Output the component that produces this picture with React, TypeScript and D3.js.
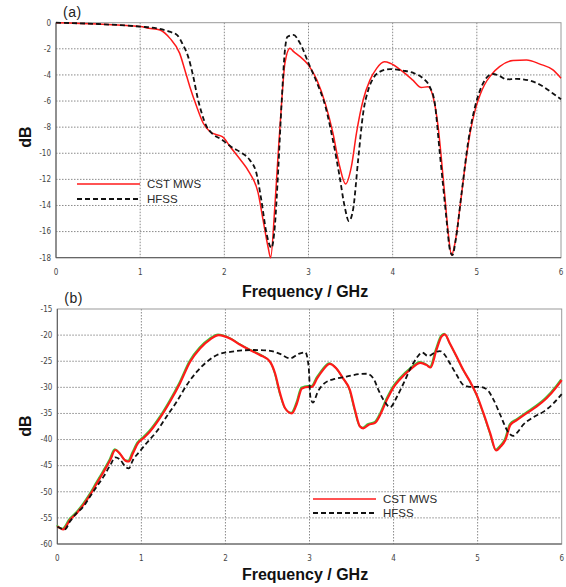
import React from "react";
import * as d3 from "d3";

// frequency in GHz, value in dB
const topCst: [number, number][] = [
  [0, 0], [0.5, -0.1], [1.0, -0.3], [1.1, -0.42], [1.235, -0.56], [1.354, -1.2], [1.47, -2.35],
  [1.53, -3.6], [1.59, -4.9], [1.67, -6.4], [1.75, -7.7], [1.83, -8.35], [1.92, -8.6], [1.98, -8.75],
  [2.07, -9.5], [2.18, -10.4], [2.3, -11.5], [2.4, -13.0], [2.46, -15.1], [2.52, -17.2], [2.55, -18.0],
  [2.6, -14.1], [2.64, -10], [2.68, -6.2], [2.72, -3.1], [2.78, -1.95], [2.82, -2.2], [2.9, -2.6],
  [3.0, -3.25], [3.1, -4.4], [3.2, -6.2], [3.29, -8.45], [3.37, -11.0], [3.44, -12.35], [3.51, -11],
  [3.57, -8.45], [3.65, -5.9], [3.73, -4.4], [3.81, -3.5], [3.9, -3.0], [3.97, -3.1], [4.12, -3.75],
  [4.24, -4.4], [4.34, -4.97], [4.42, -4.9], [4.48, -5.67], [4.54, -7.96], [4.58, -10.5], [4.62, -13.3],
  [4.66, -16.1], [4.7, -17.8], [4.74, -16.9], [4.8, -14.1], [4.86, -11.0], [4.92, -8.45], [4.98, -6.7],
  [5.04, -5.5], [5.09, -4.77], [5.17, -4.0], [5.27, -3.37], [5.43, -2.9], [5.59, -2.86], [5.75, -3.17],
  [5.9, -3.6], [6.0, -4.25],
];

const topHfss: [number, number][] = [
  [0, 0], [0.5, -0.1], [1.0, -0.3], [1.2, -0.43], [1.35, -0.69], [1.44, -0.95], [1.5, -1.58],
  [1.57, -2.6], [1.63, -4.1], [1.68, -5.67], [1.73, -6.9], [1.79, -7.96], [1.85, -8.45], [1.98, -9.0],
  [2.08, -9.5], [2.2, -9.95], [2.3, -10.5], [2.38, -11.5], [2.44, -13.6], [2.5, -16.1], [2.56, -17.25],
  [2.6, -15.6], [2.64, -11.3], [2.68, -6.2], [2.72, -2.1], [2.75, -1.07], [2.82, -0.94], [2.9, -1.58],
  [3.0, -3.1], [3.1, -4.6], [3.2, -6.4], [3.29, -9.0], [3.37, -11.8], [3.43, -14.1], [3.48, -15.2],
  [3.53, -14.3], [3.59, -10.5], [3.65, -6.9], [3.71, -5.15], [3.77, -4.25], [3.85, -3.75], [3.97, -3.55],
  [4.12, -3.67], [4.24, -3.83], [4.36, -4.26], [4.44, -4.9], [4.5, -6.15], [4.56, -10], [4.6, -12.55],
  [4.64, -15.1], [4.68, -17.4], [4.71, -17.8], [4.75, -16.6], [4.82, -13.0], [4.9, -9.0], [4.98, -6.4],
  [5.04, -5.15], [5.11, -4.26], [5.19, -3.93], [5.27, -4.08], [5.35, -4.34], [5.47, -4.3], [5.63, -4.44],
  [5.79, -4.9], [5.9, -5.4], [6.0, -5.87],
];

const bottomCst: [number, number][] = [
  [0, -56.6], [0.07, -57.2], [0.15, -55.4], [0.23, -54.1], [0.31, -52.5], [0.39, -50.6], [0.47, -48.4],
  [0.55, -46.2], [0.63, -43.9], [0.69, -42.0], [0.75, -42.8], [0.81, -44.05], [0.85, -44.2], [0.9, -42.6],
  [0.96, -40.7], [1.02, -39.8], [1.1, -38.5], [1.22, -35.9], [1.34, -32.75], [1.46, -29.2], [1.58, -25.1],
  [1.7, -22.5], [1.82, -20.8], [1.92, -20.0], [2.06, -20.7], [2.17, -21.8], [2.29, -22.85], [2.41, -23.8],
  [2.53, -25.1], [2.59, -27.3], [2.65, -31.15], [2.71, -34.0], [2.79, -35], [2.85, -33.1], [2.91, -30.2],
  [2.99, -29.9], [3.03, -29.9], [3.09, -28.3], [3.16, -26.7], [3.24, -25.5], [3.32, -26.4], [3.4, -28.3],
  [3.48, -30.5], [3.54, -34.3], [3.6, -37.5], [3.64, -37.85], [3.7, -37.2], [3.78, -36.8], [3.84, -35.3],
  [3.92, -32.4], [4.0, -30.0], [4.08, -28.4], [4.2, -26.55], [4.32, -25.3], [4.39, -25.7], [4.44, -26.2],
  [4.51, -22.85], [4.57, -20.3], [4.61, -19.85], [4.67, -21.6], [4.75, -24.1], [4.83, -26.7], [4.91, -28.9],
  [4.99, -31.5], [5.07, -35.0], [5.15, -38.8], [5.22, -42.1], [5.27, -41.4], [5.33, -40.1], [5.39, -37.2],
  [5.47, -36.25], [5.58, -35], [5.7, -33.7], [5.82, -32.1], [5.94, -29.9], [6.0, -28.6],
];

const bottomHfss: [number, number][] = [
  [0, -56.7], [0.09, -57.2], [0.15, -55.7], [0.23, -54.1], [0.31, -52.85], [0.39, -50.9], [0.47, -49.0],
  [0.55, -47.1], [0.63, -44.9], [0.69, -43.4], [0.75, -43.9], [0.81, -45.2], [0.85, -45.5], [0.9, -43.9],
  [0.98, -42.3], [1.06, -40.7], [1.18, -38.5], [1.3, -35.6], [1.42, -32.75], [1.54, -29.55], [1.66, -27.0],
  [1.78, -25.1], [1.9, -23.8], [2.06, -23.2], [2.33, -22.85], [2.53, -23.0], [2.65, -23.6], [2.77, -24.45],
  [2.87, -23.6], [2.95, -23.3], [2.99, -26.05], [3.01, -31.8], [3.04, -32.9], [3.1, -30.8], [3.18, -29.2],
  [3.3, -28.4], [3.44, -27.95], [3.6, -27.45], [3.68, -27.4], [3.76, -28.3], [3.82, -30.5], [3.88, -32.4],
  [3.96, -33.8], [4.04, -31.8], [4.12, -29.2], [4.2, -26.4], [4.28, -24.25], [4.34, -23.35], [4.41, -24.0],
  [4.49, -23.35], [4.55, -23.05], [4.61, -23.8], [4.67, -25.4], [4.75, -27.6], [4.83, -29.55], [4.91, -29.9],
  [5.03, -29.9], [5.11, -30.4], [5.19, -32.4], [5.27, -35.3], [5.35, -38.2], [5.42, -39.3], [5.48, -38.5],
  [5.54, -37.2], [5.66, -35.75], [5.78, -34.7], [5.9, -33.1], [6.0, -31.3],
];

const xTicks = [0, 1, 2, 3, 4, 5, 6];
const topYTicks = [0, -2, -4, -6, -8, -10, -12, -14, -16, -18];
const bottomYTicks = [-15, -20, -25, -30, -35, -40, -45, -50, -55, -60];
const seriesNames = ["CST MWS", "HFSS"];

const tickFont = "'DejaVu Sans Condensed', 'Liberation Sans Narrow', sans-serif";
const titleFont = "'Liberation Sans', Arial, sans-serif";

type PanelProps = {
  label: string;
  left: number; right: number; top: number; bottom: number;
  yDomain: [number, number];
  yTicks: number[];
  cst: [number, number][];
  hfss: [number, number][];
  legendX: number; legendY: number; legendGap: number;
  redWidth: number;
  green: boolean;
  titleY: number;
  dbY: number;
};

const Panel = (p: PanelProps) => {
  const x = d3.scaleLinear().domain([0, 6]).range([p.left, p.right]);
  const y = d3.scaleLinear().domain(p.yDomain).range([p.bottom, p.top]);
  const line = d3.line<[number, number]>()
    .x((d) => x(d[0]))
    .y((d) => y(d[1]))
    .curve(d3.curveMonotoneX);

  return (
    <g>
      {/* grid */}
      {xTicks.slice(1, -1).map((t) => (
        <line key={"gx" + t} x1={x(t)} x2={x(t)} y1={p.top} y2={p.bottom}
          stroke="#8a8a8a" strokeWidth={1} strokeDasharray="1.5,1.5" />
      ))}
      {p.yTicks.slice(1, -1).map((t) => (
        <line key={"gy" + t} x1={p.left} x2={p.right} y1={y(t)} y2={y(t)}
          stroke="#8a8a8a" strokeWidth={1} strokeDasharray="1.5,1.5" />
      ))}
      <rect x={p.left} y={p.top} width={p.right - p.left} height={p.bottom - p.top}
        fill="none" stroke="#9a9a9a" strokeWidth={1} />
      <line x1={p.left} x2={p.left} y1={p.top} y2={p.bottom} stroke="#555" strokeWidth={1} />
      <line x1={p.left} x2={p.right} y1={p.bottom} y2={p.bottom} stroke="#555" strokeWidth={1} />

      {/* tick labels */}
      {p.yTicks.map((t) => (
        <text key={"ty" + t} x={p.left - 5} y={y(t)} dy="0.35em" textAnchor="end"
          fontSize={8} fontFamily={tickFont} fill="#444">{t}</text>
      ))}
      {xTicks.map((t) => (
        <text key={"tx" + t} x={x(t)} y={p.bottom + 14} dy="0.35em" textAnchor="middle"
          fontSize={8} fontFamily={tickFont} fill="#444">{t}</text>
      ))}

      {/* curves */}
      {p.green && (
        <path d={line(p.cst) || ""} fill="none" stroke="#3cc83c" strokeWidth={1.6}
          transform="translate(-0.7,-0.9)" />
      )}
      <path d={line(p.cst) || ""} fill="none" stroke="#ff1a1a" strokeWidth={p.redWidth} />
      <path d={line(p.hfss) || ""} fill="none" stroke="#111" strokeWidth={1.8} strokeDasharray="5,3" />

      {/* legend */}
      <line x1={p.legendX} x2={p.legendX + 63} y1={p.legendY} y2={p.legendY}
        stroke="#ff1a1a" strokeWidth={1.6} />
      <text x={p.legendX + 70} y={p.legendY} dy="0.35em" fontSize={11.5}
        fontFamily={titleFont} fill="#2a2a2a">{seriesNames[0]}</text>
      <line x1={p.legendX} x2={p.legendX + 63} y1={p.legendY + p.legendGap} y2={p.legendY + p.legendGap}
        stroke="#111" strokeWidth={1.8} strokeDasharray="5,3" />
      <text x={p.legendX + 70} y={p.legendY + p.legendGap} dy="0.35em" fontSize={11.5}
        fontFamily={titleFont} fill="#2a2a2a">{seriesNames[1]}</text>

      {/* titles */}
      <text x={p.left + 7} y={p.top - 6} fontSize={14} fontFamily={titleFont} fill="#222"
        letterSpacing={0.5}>{p.label}</text>
      <text x={305} y={p.titleY} textAnchor="middle" fontSize={16} fontWeight="bold"
        fontFamily={titleFont} fill="#111">Frequency / GHz</text>
      <text transform={`translate(31,${p.dbY}) rotate(-90)`} textAnchor="middle" fontSize={16}
        fontWeight="bold" fontFamily={titleFont} fill="#111">dB</text>
    </g>
  );
};

const App = () => {
  return (
    <svg width={566} height={587} style={{ position: "absolute", left: 0, top: 0, background: "#fff" }}>
      <rect width={566} height={587} fill="#fff" />
      <Panel label="(a)" left={56} right={561} top={22.7} bottom={257.7}
        yDomain={[-18, 0]} yTicks={topYTicks} cst={topCst} hfss={topHfss}
        legendX={77} legendY={184} legendGap={15} redWidth={1.5} green={false} titleY={297} dbY={137} />
      <Panel label="(b)" left={57.3} right={561.7} top={309} bottom={544}
        yDomain={[-60, -15]} yTicks={bottomYTicks} cst={bottomCst} hfss={bottomHfss}
        legendX={313} legendY={499} legendGap={14} redWidth={2.2} green={true} titleY={580} dbY={426} />
    </svg>
  );
};

export default App;
